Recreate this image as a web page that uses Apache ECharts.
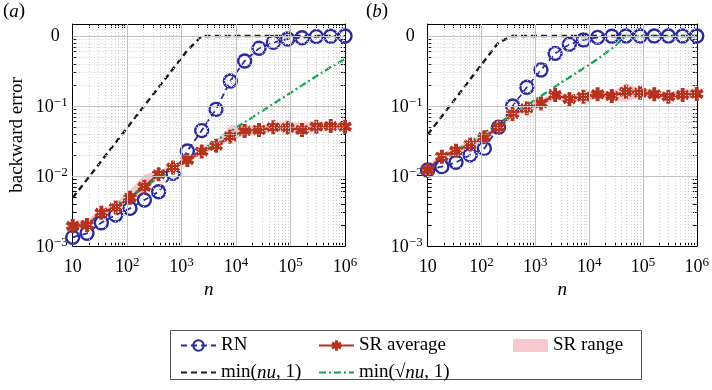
<!DOCTYPE html>
<html>
<head>
<meta charset="utf-8">
<script src="https://cdn.jsdelivr.net/npm/echarts@6/dist/echarts.min.js"></script>
<style>
  html, body { margin: 0; padding: 0; background: #fff; }
  #chart { width: 712px; height: 390px; }
</style>
</head>
<body>
<div id="chart"></div>
<script>
// problem sizes n (shared by both panels)
const nVals = [10, 18.33, 33.6, 61.58, 112.9, 206.9, 379.3, 695.2, 1274, 2336,
  4281, 7848, 14384, 26367, 48329, 88587, 162378, 297635, 545559, 1000000];

// panel (a)
const rnA = [1.33e-3, 1.52e-3, 2.15e-3, 2.77e-3, 3.45e-3, 4.54e-3, 5.97e-3, 1.09e-2, 2.28e-2, 4.45e-2,
  8.96e-2, 0.228, 0.44, 0.667, 0.81, 0.906, 0.946, 0.98, 0.99, 1.0];
const srAvgA = [1.93e-3, 2.0e-3, 2.99e-3, 3.56e-3, 4.9e-3, 7.04e-3, 1.06e-2, 1.32e-2, 1.69e-2, 2.23e-2,
  2.71e-2, 3.65e-2, 4.39e-2, 4.54e-2, 4.96e-2, 4.9e-2, 4.54e-2, 5.07e-2, 5.18e-2, 5.07e-2];
const srLoA = [1.7e-3, 1.75e-3, 2.6e-3, 3.2e-3, 4.3e-3, 6.0e-3, 9.3e-3, 1.2e-2, 1.55e-2, 2.0e-2,
  2.45e-2, 3.2e-2, 3.7e-2, 3.9e-2, 4.3e-2, 4.2e-2, 3.9e-2, 4.3e-2, 4.5e-2, 4.5e-2];
const srHiA = [2.3e-3, 2.4e-3, 3.4e-3, 4.1e-3, 6.3e-3, 1.05e-2, 1.2e-2, 1.45e-2, 1.85e-2, 2.5e-2,
  3.2e-2, 5.3e-2, 5.4e-2, 5.3e-2, 5.8e-2, 5.9e-2, 5.8e-2, 5.9e-2, 6.0e-2, 5.8e-2];
const nuA = [4.88e-3, 8.95e-3, 1.64e-2, 3.01e-2, 5.51e-2, 0.101, 0.185, 0.34, 0.622, 1,
  1, 1, 1, 1, 1, 1, 1, 1, 1, 1];
const sqrtNuA = [1.54e-3, 2.09e-3, 2.83e-3, 3.83e-3, 5.19e-3, 7.02e-3, 9.51e-3, 1.29e-2, 1.74e-2, 2.36e-2,
  3.2e-2, 4.33e-2, 5.86e-2, 7.93e-2, 0.107, 0.145, 0.197, 0.266, 0.36, 0.47];

// panel (b)
const rnB = [1.22e-2, 1.36e-2, 1.57e-2, 2.0e-2, 2.48e-2, 4.96e-2, 0.1, 0.185, 0.327, 0.565,
  0.76, 0.877, 0.957, 0.99, 1, 1, 1, 1, 1, 1];
const srAvgB = [1.22e-2, 1.89e-2, 2.3e-2, 2.83e-2, 3.57e-2, 4.96e-2, 7.69e-2, 9.26e-2, 0.109, 0.144,
  0.126, 0.136, 0.147, 0.139, 0.16, 0.155, 0.147, 0.136, 0.144, 0.149];
const srLoB = [1.1e-2, 1.7e-2, 2.05e-2, 2.5e-2, 3.2e-2, 4.5e-2, 6.9e-2, 8.3e-2, 9.6e-2, 0.125,
  0.11, 0.118, 0.128, 0.12, 0.115, 0.135, 0.13, 0.12, 0.125, 0.13];
const srHiB = [1.45e-2, 2.1e-2, 2.6e-2, 3.2e-2, 4.0e-2, 5.5e-2, 8.8e-2, 0.105, 0.125, 0.162,
  0.145, 0.155, 0.165, 0.16, 0.21, 0.18, 0.17, 0.155, 0.175, 0.18];
const nuB = [3.91e-2, 7.16e-2, 0.131, 0.241, 0.441, 0.808, 1, 1, 1, 1,
  1, 1, 1, 1, 1, 1, 1, 1, 1, 1];
const sqrtNuB = [1.235e-2, 1.67e-2, 2.26e-2, 3.07e-2, 4.15e-2, 5.62e-2, 7.61e-2, 0.103, 0.139, 0.189,
  0.256, 0.346, 0.469, 0.66, 1, 1, 1, 1, 1, 1];

const FONT = 'Liberation Serif';
const BLUE = '#2b2b9e';
const RED = '#b5321f';
const GREEN = '#12a150';
const PINK = 'rgba(238,140,150,0.48)';

function decade(v) {
  const l = Math.log10(v), e = Math.round(l);
  return Math.abs(l - e) < 1e-6 ? e : null;
}
// tick label as 10 with a raised exponent (rich text)
function powLabel(e) {
  const ex = e < 0 ? '−' + (-e) : String(e);
  return '{b|10}{s|' + ex + '}';
}
const tickRich = {
  b: { fontFamily: FONT, fontSize: 18, color: '#000', verticalAlign: 'bottom', lineHeight: 20 },
  s: { fontFamily: FONT, fontSize: 13, color: '#000', verticalAlign: 'top', lineHeight: 13 },
  z: { fontFamily: FONT, fontSize: 18, color: '#000', padding: [0, 8, 0, 0] }
};

// asterisk marker: three crossing bars
const STAR = 'path://M-1.7,-6L1.7,-6L1.7,6L-1.7,6Z' +
  'M4.346,-4.472L6.046,-1.528L-4.346,4.472L-6.046,1.528Z' +
  'M6.046,1.528L4.346,4.472L-6.046,-1.528L-4.346,-4.472Z';

// grid line and frame tick positions
const majorX = [100, 1000, 10000, 100000];
const majorY = [0.01, 0.1, 1];
const minorX = [], minorY = [];
for (let e = 1; e < 6; e++) for (let m = 2; m < 10; m++) minorX.push(m * Math.pow(10, e));
for (let e = -3; e < 0; e++) for (let m = 2; m < 10; m++) minorY.push(m * Math.pow(10, e));
const tickX = [10, 1e6].concat(majorX, minorX);
const tickY = [1e-3].concat(majorY, minorY);

const pts = arr => nVals.map((n, i) => [n, arr[i]]);

function panelSeries(idx, rn, avg, lo, hi, nu, sq) {
  const ax = { xAxisIndex: idx * 2, yAxisIndex: idx * 2 };
  return [
    Object.assign({
      type: 'line', name: '_minor' + idx, data: [], silent: true,
      markLine: {
        silent: true, symbol: 'none', label: { show: false }, animation: false,
        lineStyle: { color: '#cfcfcf', type: [1, 2], width: 1 },
        data: minorX.map(v => ({ xAxis: v })).concat(minorY.map(v => ({ yAxis: v })))
      }
    }, ax),
    Object.assign({
      type: 'line', name: '_major' + idx, data: [], silent: true,
      markLine: {
        silent: true, symbol: 'none', label: { show: false }, animation: false,
        lineStyle: { color: '#c2c2c2', type: 'solid', width: 1 },
        data: majorX.map(v => ({ xAxis: v })).concat(majorY.map(v => ({ yAxis: v })))
      }
    }, ax),
    // SR range band: one polygon, lower edge forward, upper edge back
    Object.assign({
      type: 'custom', name: 'SR range', silent: true,
      itemStyle: { color: PINK },
      data: [[nVals[0], lo[0]]],
      renderItem: (params, api) => {
        const lower = lo.map((v, i) => api.coord([nVals[i], v]));
        const upper = hi.map((v, i) => api.coord([nVals[i], v])).reverse();
        return { type: 'polygon', shape: { points: lower.concat(upper) }, style: { fill: PINK } };
      }
    }, ax),
    Object.assign({
      type: 'line', name: 'RN', data: pts(rn),
      symbol: 'circle', symbolSize: 13,
      lineStyle: { color: BLUE, width: 1.8, type: [6, 4] },
      itemStyle: { color: 'rgba(255,255,255,0)', borderColor: BLUE, borderWidth: 2.4 }
    }, ax),
    Object.assign({
      type: 'line', name: 'SR average', data: pts(avg),
      symbol: STAR, symbolSize: 14,
      lineStyle: { color: RED, width: 2.4 },
      itemStyle: { color: RED }
    }, ax),
    Object.assign({
      type: 'line', name: 'min(nu, 1)', data: pts(nu), symbol: 'none',
      lineStyle: { color: '#1a1a1a', width: 2.4, type: [6, 4] },
      itemStyle: { color: '#1a1a1a' }
    }, ax),
    Object.assign({
      type: 'line', name: 'min(√nu, 1)', data: pts(sq), symbol: 'none',
      lineStyle: { color: GREEN, width: 2.3, type: [7, 3, 2, 3] },
      itemStyle: { color: GREEN }
    }, ax)
  ];
}

const frameTick = vals => ({
  show: true, inside: true, length: 4, customValues: vals, lineStyle: { color: '#000' }
});

function xAxes(idx) {
  const base = { type: 'log', gridIndex: idx, min: 10, max: 1e6, logBase: 10,
    axisLine: { show: true, lineStyle: { color: '#000' } }, splitLine: { show: false } };
  return [
    Object.assign({}, base, {
      position: 'bottom',
      name: 'n', nameLocation: 'middle', nameGap: 32,
      nameTextStyle: { fontFamily: FONT, fontSize: 19, fontStyle: 'italic', color: '#000' },
      axisTick: frameTick(tickX),
      axisLabel: {
        fontFamily: FONT, fontSize: 18, color: '#000', margin: 10,
        formatter: v => { const e = decade(v); return e === null ? '' : (e === 1 ? '{b|10}' : powLabel(e)); },
        rich: tickRich
      }
    }),
    Object.assign({}, base, { position: 'top', axisTick: frameTick(tickX), axisLabel: { show: false } })
  ];
}

function yAxes(idx) {
  const base = { type: 'log', gridIndex: idx, min: 1e-3, max: 1.484, logBase: 10,
    axisLine: { show: true, lineStyle: { color: '#000' } }, splitLine: { show: false } };
  return [
    Object.assign({}, base, {
      position: 'left',
      name: idx === 0 ? 'backward error' : '', nameLocation: 'middle', nameGap: 46,
      nameTextStyle: { fontFamily: FONT, fontSize: 19, color: '#000' },
      axisTick: frameTick(tickY),
      axisLabel: {
        fontFamily: FONT, fontSize: 18, color: '#000', margin: 5,
        formatter: v => { const e = decade(v); return e === null ? '' : (e === 0 ? '{z|0}' : powLabel(e)); },
        rich: tickRich
      }
    }),
    Object.assign({}, base, { position: 'right', axisTick: frameTick(tickY), axisLabel: { show: false } })
  ];
}

const legendText = {
  fontFamily: FONT, fontSize: 19, color: '#000',
  rich: {
    r: { fontFamily: FONT, fontSize: 19, color: '#000' },
    i: { fontFamily: FONT, fontSize: 19, color: '#000', fontStyle: 'italic' }
  }
};
function legendFmt(name) {
  if (name === 'min(nu, 1)') return '{r|min(}{i|nu}{r|, 1)}';
  if (name === 'min(√nu, 1)') return '{r|min(√}{i|nu}{r|, 1)}';
  return name;
}
function legend(left, data) {
  return {
    left: left, top: 336, orient: 'vertical', itemGap: 8, padding: 0,
    itemWidth: 35, itemHeight: 13, selectedMode: false,
    textStyle: legendText, formatter: legendFmt, data: data
  };
}
const noDot = name => ({ name: name, itemStyle: { opacity: 0 } });

const chart = echarts.init(document.getElementById('chart'), null, { renderer: 'canvas' });
chart.setOption({
  animation: false,
  backgroundColor: '#fff',
  grid: [
    { left: 72.7, top: 24, width: 272.3, height: 222 },
    { left: 427.7, top: 24, width: 272.3, height: 222 }
  ],
  xAxis: xAxes(0).concat(xAxes(1)),
  yAxis: yAxes(0).concat(yAxes(1)),
  legend: [
    legend(180, ['RN', noDot('min(nu, 1)')]),
    legend(318, ['SR average', noDot('min(√nu, 1)')]),
    legend(513, [{ name: 'SR range', icon: 'rect', itemStyle: { color: PINK } }])
  ],
  graphic: [
    { type: 'rect', shape: { x: 170.5, y: 330.5, width: 471, height: 49 },
      style: { fill: 'none', stroke: '#555', lineWidth: 1 }, silent: true },
    { type: 'text', left: 3, top: 2,
      style: { text: '{r|(}{i|a}{r|)}', rich: legendText.rich } },
    { type: 'text', left: 366, top: 2,
      style: { text: '{r|(}{i|b}{r|)}', rich: legendText.rich } }
  ],
  series: panelSeries(0, rnA, srAvgA, srLoA, srHiA, nuA, sqrtNuA)
    .concat(panelSeries(1, rnB, srAvgB, srLoB, srHiB, nuB, sqrtNuB))
});
</script>
</body>
</html>
